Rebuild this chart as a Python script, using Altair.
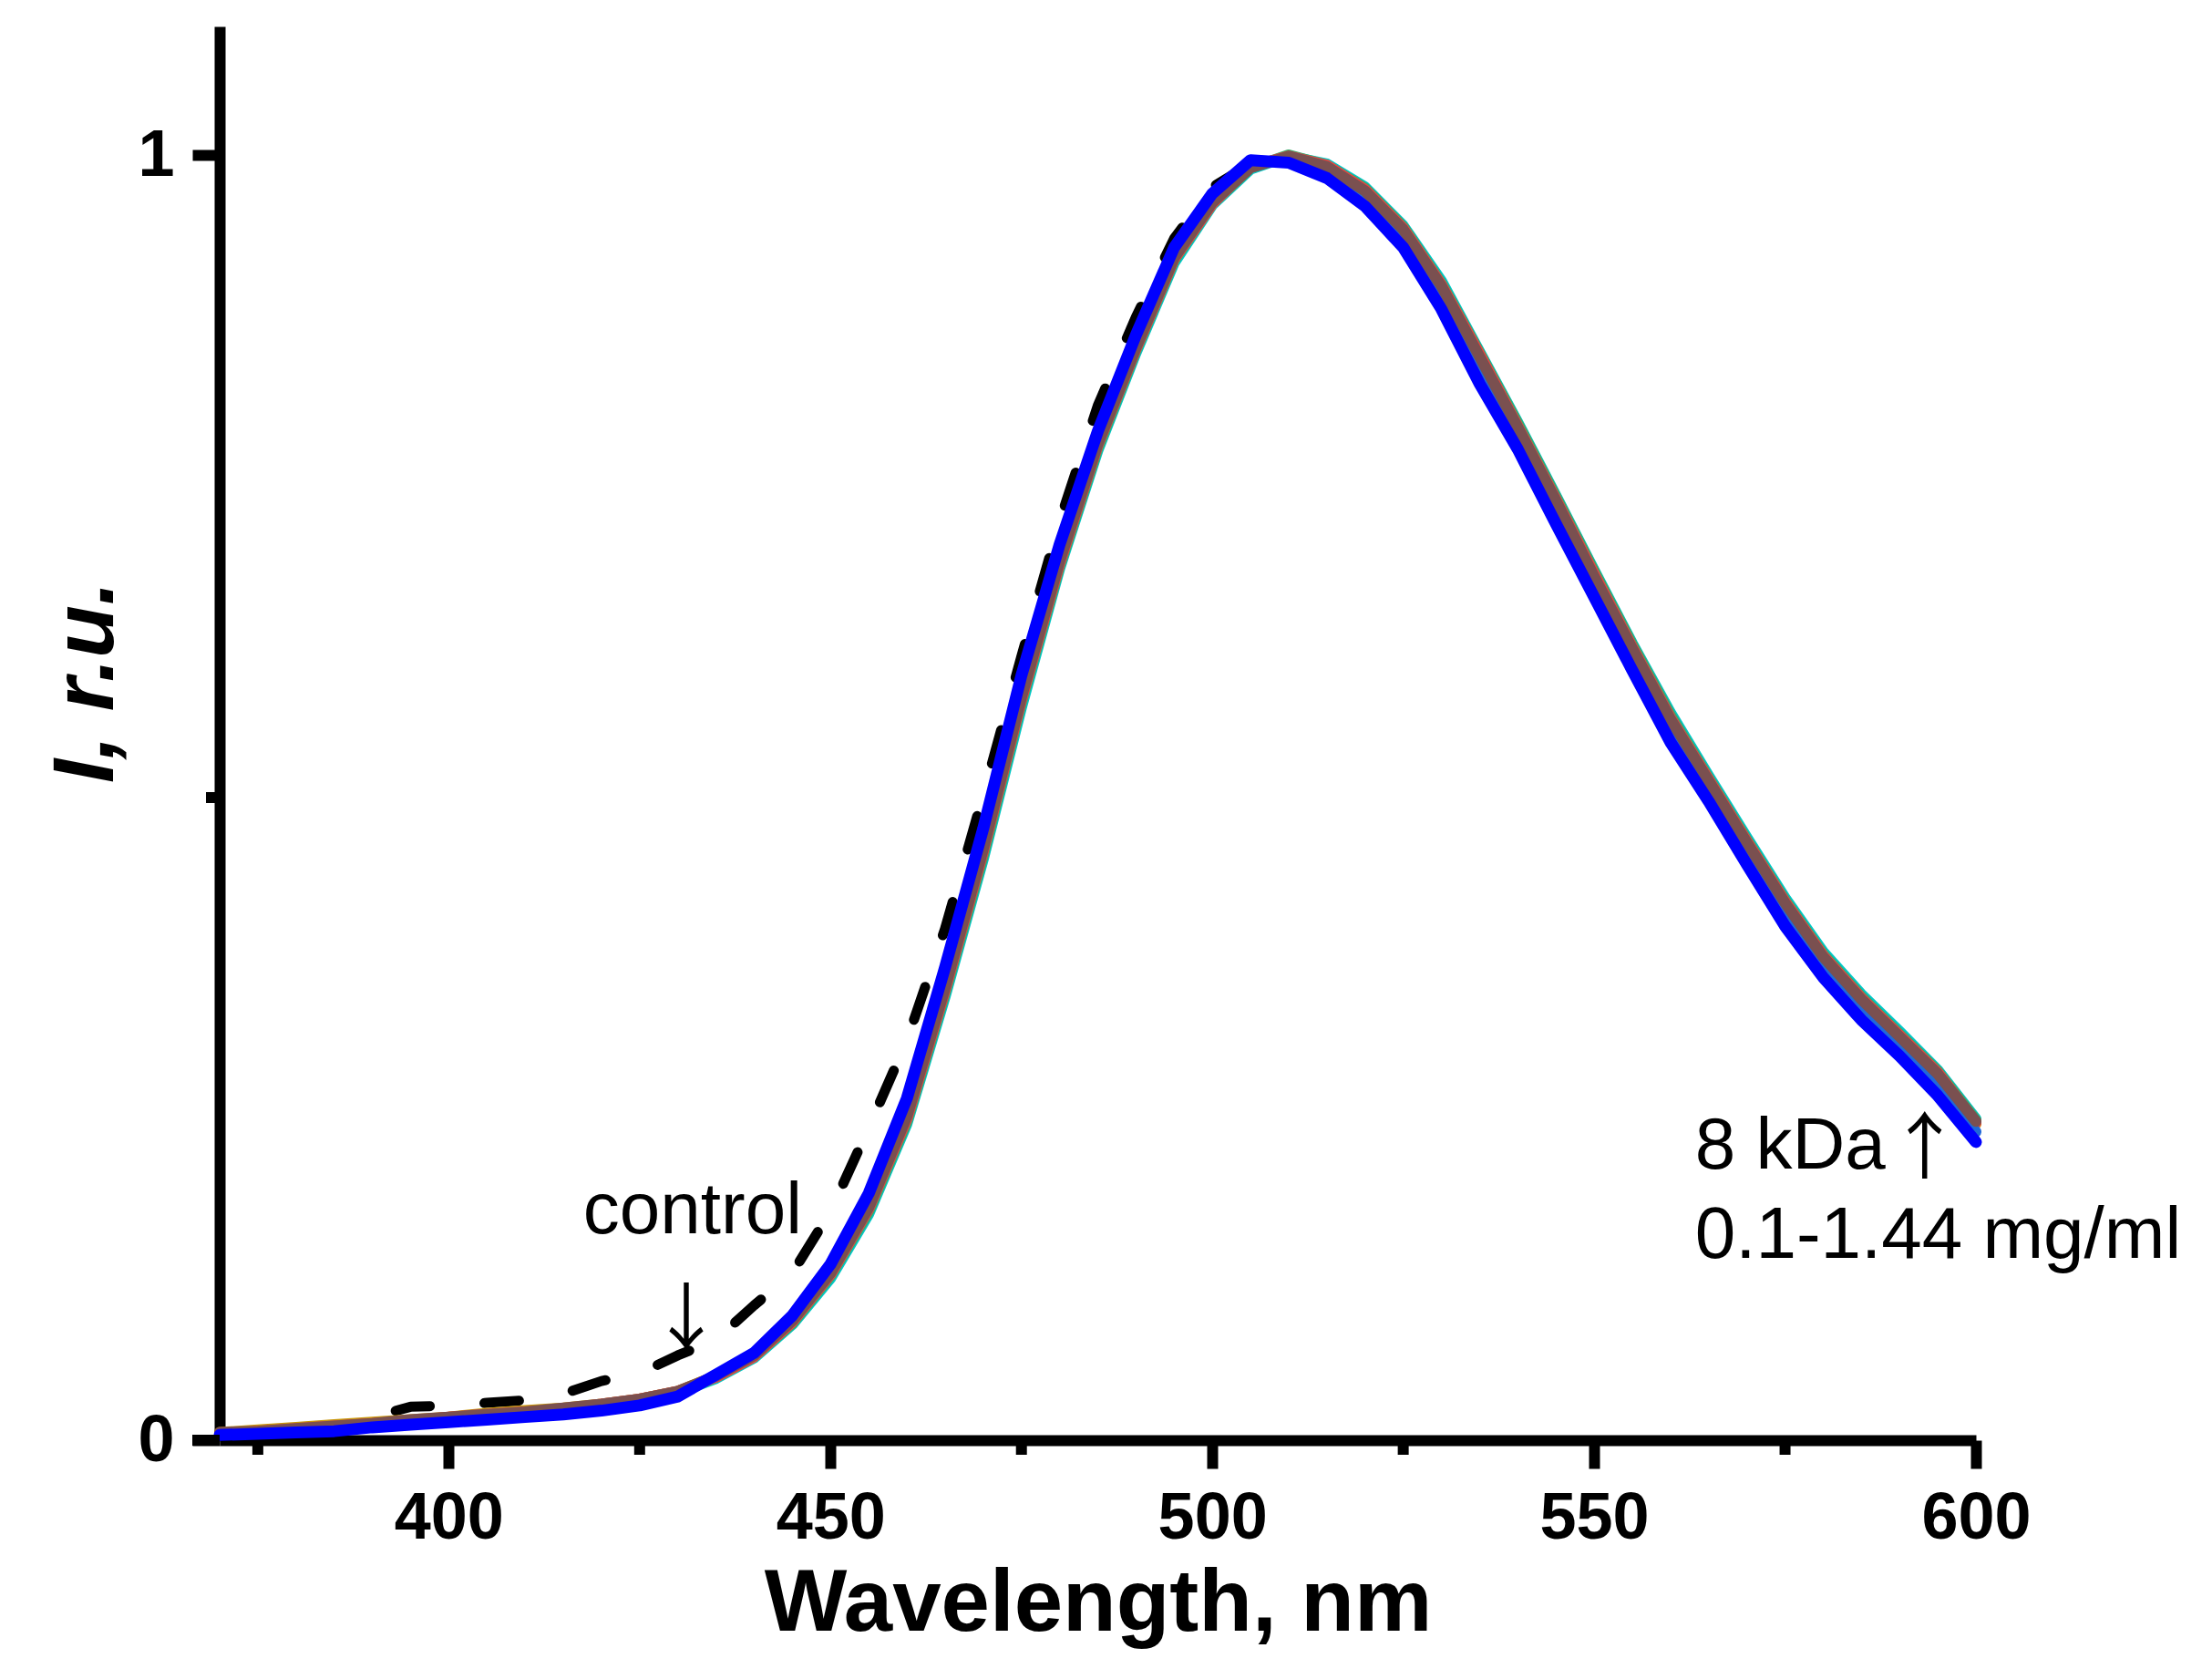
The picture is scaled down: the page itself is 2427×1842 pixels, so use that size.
import altair as alt
import pandas as pd

# wavelength grid (nm) and normalised intensities
wavelength = list(range(370, 601, 5))

control = [0.003, 0.005, 0.008, 0.010, 0.018, 0.026, 0.027, 0.029, 0.031, 0.036,
           0.046, 0.052, 0.066, 0.078, 0.105, 0.130, 0.178, 0.243, 0.311, 0.398,
           0.502, 0.610, 0.715, 0.805, 0.874, 0.935, 0.975, 0.993, 0.995, 0.984,
           0.962, 0.930, 0.884, 0.827, 0.775, 0.717, 0.660, 0.603, 0.547, 0.500,
           0.452, 0.404, 0.363, 0.331, 0.302, 0.272, 0.238]
cyan = [0.005, 0.007, 0.009, 0.011, 0.013, 0.015, 0.017, 0.020, 0.022, 0.024,
        0.027, 0.031, 0.037, 0.048, 0.064, 0.090, 0.126, 0.176, 0.246, 0.345,
        0.452, 0.570, 0.678, 0.770, 0.846, 0.916, 0.961, 0.989, 0.999, 0.993,
        0.975, 0.945, 0.902, 0.847, 0.792, 0.735, 0.677, 0.620, 0.566, 0.517,
        0.469, 0.422, 0.380, 0.347, 0.318, 0.288, 0.250]
green = [0.005, 0.006, 0.008, 0.010, 0.012, 0.015, 0.017, 0.019, 0.021, 0.024,
         0.027, 0.031, 0.037, 0.049, 0.065, 0.091, 0.128, 0.178, 0.248, 0.348,
         0.455, 0.574, 0.680, 0.772, 0.848, 0.918, 0.962, 0.990, 1.000, 0.992,
         0.974, 0.944, 0.900, 0.846, 0.791, 0.734, 0.676, 0.619, 0.564, 0.515,
         0.467, 0.420, 0.378, 0.345, 0.316, 0.287, 0.249]
orange = [0.006, 0.008, 0.010, 0.012, 0.014, 0.016, 0.018, 0.021, 0.023, 0.025,
          0.028, 0.032, 0.038, 0.050, 0.066, 0.093, 0.131, 0.182, 0.254, 0.354,
          0.462, 0.580, 0.686, 0.777, 0.852, 0.921, 0.964, 0.992, 0.998, 0.990,
          0.971, 0.940, 0.896, 0.841, 0.786, 0.729, 0.670, 0.614, 0.559, 0.511,
          0.463, 0.416, 0.374, 0.341, 0.312, 0.283, 0.246]
red = [0.005, 0.007, 0.009, 0.011, 0.013, 0.015, 0.018, 0.020, 0.022, 0.024,
       0.028, 0.032, 0.038, 0.049, 0.065, 0.092, 0.129, 0.180, 0.250, 0.350,
       0.458, 0.576, 0.682, 0.774, 0.849, 0.919, 0.962, 0.991, 0.999, 0.992,
       0.973, 0.943, 0.899, 0.845, 0.789, 0.732, 0.674, 0.617, 0.562, 0.514,
       0.466, 0.419, 0.377, 0.344, 0.315, 0.286, 0.247]
midblue = [0.005, 0.006, 0.008, 0.010, 0.012, 0.014, 0.016, 0.018, 0.020, 0.023,
           0.026, 0.030, 0.036, 0.050, 0.067, 0.095, 0.134, 0.188, 0.260, 0.361,
           0.469, 0.588, 0.691, 0.780, 0.855, 0.924, 0.967, 0.994, 0.996, 0.986,
           0.965, 0.934, 0.888, 0.832, 0.779, 0.721, 0.664, 0.607, 0.551, 0.504,
           0.456, 0.408, 0.367, 0.334, 0.306, 0.276, 0.240]
brown = [0.006, 0.007, 0.009, 0.011, 0.013, 0.016, 0.018, 0.020, 0.022, 0.025,
         0.028, 0.032, 0.038, 0.050, 0.066, 0.093, 0.130, 0.181, 0.252, 0.352,
         0.460, 0.578, 0.684, 0.775, 0.850, 0.920, 0.963, 0.990, 0.999, 0.991,
         0.972, 0.942, 0.898, 0.843, 0.788, 0.731, 0.672, 0.616, 0.561, 0.513,
         0.465, 0.418, 0.376, 0.343, 0.314, 0.285, 0.248]
blue = [0.004, 0.005, 0.006, 0.007, 0.010, 0.012, 0.014, 0.016, 0.018, 0.020,
        0.023, 0.027, 0.034, 0.051, 0.068, 0.097, 0.137, 0.192, 0.266, 0.368,
        0.476, 0.595, 0.697, 0.785, 0.860, 0.928, 0.970, 0.996, 0.994, 0.982,
        0.960, 0.928, 0.880, 0.822, 0.771, 0.713, 0.656, 0.599, 0.543, 0.497,
        0.448, 0.400, 0.360, 0.327, 0.299, 0.268, 0.232]

x_major = [400, 450, 500, 550, 600]
x_minor = [375, 425, 475, 525, 575]
y_major = [0, 1]
y_minor = [0.5]

# annotations: text, wavelength and intensity of the text baseline
note_text = ["control", "8 kDa", "0.1-1.44 mg/ml"]
note_x = [417.6, 563.2, 563.2]
note_y = [0.161, 0.2113, 0.1418]
down_text, down_x, down_y = ["\u2193"], [431.1], [0.0752]
up_text, up_x, up_y = ["\u2191"], [588.5], [0.2085]

series_values = {
    "control": control, "cyan": cyan, "green": green, "orange": orange,
    "red": red, "midblue": midblue, "brown": brown, "blue": blue,
}
# drawing order, colour, line width
styles = [
    ("control", "#000000", 11),
    ("cyan", "#00c8c8", 12),
    ("green", "#3aaa6a", 12),
    ("orange", "#c8960a", 12),
    ("red", "#f04040", 12),
    ("midblue", "#2068d8", 12),
    ("brown", "#7a5050", 12),
    ("blue", "#0000ff", 13),
]

rows = []
for name, vals in series_values.items():
    for w, v in zip(wavelength, vals):
        rows.append({"series": name, "wavelength": w, "intensity": v})
df = pd.DataFrame(rows)

W, H = 1927, 1551
FONT = "Liberation Sans"

x_axis = alt.Axis(
    values=x_major, format="d",
    labelFont=FONT, labelFontSize=72, labelFontWeight="bold", labelColor="black",
    labelPadding=19, labelOverlap=False, labelFlush=False, labelBound=False,
    domainColor="black", domainWidth=12,
    tickColor="black", tickWidth=12, tickSize=31,
    grid=False,
    title="Wavelength, nm", titleFont=FONT, titleFontSize=96,
    titleFontWeight="bold", titleColor="black",
    titleY=208, titleBaseline="alphabetic",
)
y_axis = alt.Axis(
    values=y_major, format="d",
    labelFont=FONT, labelFontSize=72, labelFontWeight="bold", labelColor="black",
    labelPadding=20, labelOverlap=False, labelFlush=False, labelBound=False,
    domainColor="black", domainWidth=12,
    tickColor="black", tickWidth=12, tickSize=30,
    grid=False,
    title="I, r.u.", titleFont=FONT, titleFontSize=95, titleFontWeight="bold",
    titleFontStyle="italic", titleColor="black",
    titleAngle=270, titleX=-118, titleY=719, titleAlign="center",
    titleBaseline="alphabetic",
)

x_enc = alt.X("wavelength:Q", scale=alt.Scale(domain=[370, 600], nice=False, zero=False), axis=x_axis)
y_enc = alt.Y("intensity:Q", scale=alt.Scale(domain=[0, 1.1], nice=False), axis=y_axis)

layers = []
for name, color, sw in styles:
    props = dict(color=color, strokeWidth=sw, strokeCap="round", strokeJoin="round")
    if name == "control":
        props["strokeDash"] = [38, 60]
    layers.append(
        alt.Chart(df).transform_filter(alt.datum.series == name)
        .mark_line(**props)
        .encode(x=x_enc, y=y_enc)
    )

# minor ticks (shorter, unlabelled)
minor_x_ticks = alt.Chart(pd.DataFrame({"wavelength": x_minor})).mark_rule(
    color="black", strokeWidth=12
).encode(x=x_enc, y=alt.value(H), y2=alt.value(H + 16))
minor_y_ticks = alt.Chart(pd.DataFrame({"intensity": y_minor})).mark_rule(
    color="black", strokeWidth=12
).encode(y=y_enc, x=alt.value(-15), x2=alt.value(0))

# x axis line runs a little past the y axis, as in the original
axis_stub = alt.Chart(pd.DataFrame({"a": [0]})).mark_rule(
    color="black", strokeWidth=12
).encode(x=alt.value(-30), x2=alt.value(0), y=alt.value(H))

notes = alt.Chart(pd.DataFrame({"label": note_text, "wavelength": note_x, "intensity": note_y})).mark_text(
    font=FONT, fontSize=80, align="left", baseline="alphabetic", color="black"
).encode(x=x_enc, y=y_enc, text="label:N")

down_arrow = alt.Chart(pd.DataFrame({"label": down_text, "wavelength": down_x, "intensity": down_y})).mark_text(
    font="Noto Sans CJK JP", fontSize=80, align="center", baseline="alphabetic", color="black"
).encode(x=x_enc, y=y_enc, text="label:N")

up_arrow = alt.Chart(pd.DataFrame({"label": up_text, "wavelength": up_x, "intensity": up_y})).mark_text(
    font="Noto Sans CJK JP", fontSize=80, align="left", baseline="alphabetic", color="black"
).encode(x=x_enc, y=y_enc, text="label:N")

chart = (
    alt.layer(*layers, minor_x_ticks, minor_y_ticks, axis_stub, notes, down_arrow, up_arrow)
    .properties(
        width=W, height=H,
        autosize=alt.AutoSizeParams(type="none"),
        padding={"left": 233, "top": 21, "right": 251, "bottom": 254},
        background="white",
    )
    .configure_view(stroke=None)
)

chart.save("out.html", embed_options={"renderer": "svg", "actions": False})
